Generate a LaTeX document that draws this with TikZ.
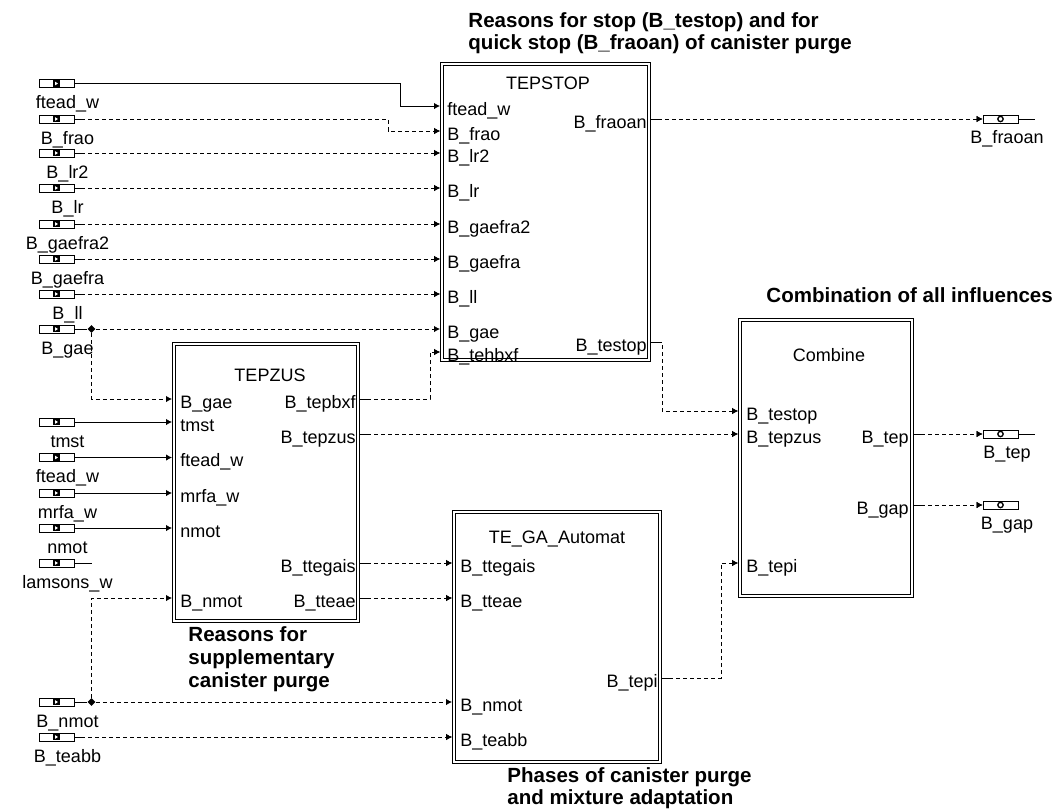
\documentclass[tikz,border=0pt]{standalone}
\usepackage{fontspec}
\setmainfont{Liberation Sans}
\usetikzlibrary{arrows.meta,calc,shapes.geometric}
\newcommand\plainfs{\fontsize{13.5pt}{15pt}\selectfont}
\newcommand\boldfs{\fontsize{15.4pt}{18pt}\selectfont\bfseries}
\begin{document}
\begin{tikzpicture}[x=0.75pt,y=-0.75pt, line width=0.65pt,
  pin/.style={font=\plainfs, inner sep=0pt, anchor=base west},
  pout/.style={font=\plainfs, inner sep=0pt, anchor=base east},
  btitle/.style={font=\plainfs, inner sep=0pt, anchor=base},
  note/.style={font=\boldfs, inner sep=0pt, anchor=base west},
  plbl/.style={font=\plainfs, inner sep=0pt, anchor=base},
  blk/.style={draw, double, double distance=1.6pt, inner sep=0pt},
  iport/.style={draw, minimum width=26.25pt, minimum height=6pt, inner sep=0pt,
    path picture={\fill ($(path picture bounding box.center)+(-2.6pt,-2.4pt)$) rectangle ++(5.2pt,4.8pt);
      \fill[white] ($(path picture bounding box.center)+(-1.1pt,-1.4pt)$) -- ++(0,2.8pt) -- ++(2.2pt,-1.4pt) -- cycle;}},
  oport/.style={draw, minimum width=26.25pt, minimum height=6pt, inner sep=0pt,
    path picture={\draw[line width=1pt] (path picture bounding box.center) circle (2pt);}},
  jn/.style={diamond, fill, inner sep=0pt, minimum size=6pt},
  tip/.style={-{Latex[length=4.5pt,width=4.8pt]}},
  sarr/.style={tip},
  con/.style={tip, dash pattern=on 3pt off 2.25pt, postaction={draw, dash pattern=on 7.5pt off 7000pt}},
  dsh/.style={dash pattern=on 3pt off 2.25pt},
]
\useasboundingbox (0,0) rectangle (1057,808);

% ---------- blocks ----------
\node[blk, minimum width=155.5pt, minimum height=222.2pt] (S) at (545.5,212) {};
\node[blk, minimum width=138.2pt, minimum height=208pt] (Z) at (266,482.5) {};
\node[blk, minimum width=154.7pt, minimum height=187.7pt] (G) at (557,637) {};
\node[blk, minimum width=129.2pt, minimum height=207.2pt] (C) at (826,458) {};

% titles
\node[btitle] (St) at (548,89.5) {TEPSTOP};
\node[btitle] (Zt) at (270,381.5) {TEPZUS};
\node[btitle] (Gt) at (557,543.5) {TE\_GA\_Automat};
\node[btitle] (Ct) at (829,361.5) {Combine};

% TEPSTOP pins
\foreach \i/\y/\t in {1/106/ftead\_w, 2/131/B\_frao, 3/153/B\_lr2, 4/188/B\_lr, 5/224/B\_gaefra2, 6/259/B\_gaefra, 7/294/B\_ll, 8/329/B\_gae, 9/352/B\_tehbxf}{
  \coordinate (Si\i) at (440,\y);
  \node[pin] (Sl\i) at (447,\y+9) {\t};
}
\coordinate (So1) at (651,119);
\coordinate (So2) at (651,342);
\node[pout] (Sol1) at (647,128) {B\_fraoan};
\node[pout] (Sol2) at (647,351) {B\_testop};

% TEPZUS pins
\foreach \i/\y/\t in {1/399/B\_gae, 2/422/tmst, 3/457.5/ftead\_w, 4/493/mrfa\_w, 5/528/nmot, 6/598/B\_nmot}{
  \coordinate (Zi\i) at (172,\y);
  \node[pin] (Zl\i) at (180,\y+9) {\t};
}
\foreach \i/\y/\t in {1/399/B\_tepbxf, 2/434/B\_tepzus, 3/563/B\_ttegais, 4/598/B\_tteae}{
  \coordinate (Zo\i) at (360,\y);
  \node[pout] (Zol\i) at (356,\y+9) {\t};
}

% TE_GA pins
\foreach \i/\y/\t in {1/563/B\_ttegais, 2/598/B\_tteae, 3/702/B\_nmot, 4/737/B\_teabb}{
  \coordinate (Gi\i) at (452,\y);
  \node[pin] (Gl\i) at (460,\y+9) {\t};
}
\coordinate (Go1) at (662,678);
\node[pout] (Gol1) at (658,687) {B\_tepi};

% Combine pins
\foreach \i/\y/\t in {1/411/B\_testop, 2/434/B\_tepzus, 3/563/B\_tepi}{
  \coordinate (Ci\i) at (738,\y);
  \node[pin] (Cl\i) at (746,\y+9) {\t};
}
\coordinate (Co1) at (914,434);
\coordinate (Co2) at (914,505);
\node[pout] (Col1) at (909,443) {B\_tep};
\node[pout] (Col2) at (909,514) {B\_gap};

% ---------- input ports ----------
\foreach \n/\y/\t in {p1/83.5/ftead\_w, p2/119/B\_frao, p3/153/B\_lr2, p4/188/B\_lr, p5/224/B\_gaefra2, p6/259/B\_gaefra, p7/294/B\_ll, p8/329/B\_gae, q1/422/tmst, q2/457.5/ftead\_w, q3/493/mrfa\_w, q4/528/nmot, q5/563/lamsons\_w, r1/702/B\_nmot, r2/737/B\_teabb}{
  \node[iport] (\n) at (56.5,\y) {};
  \node[plbl] (\n-l) at (67.5,\y+25) {\t};
}

% ---------- output ports ----------
\foreach \n/\y/\t in {o1/119/B\_fraoan, o2/434/B\_tep, o3/505/B\_gap}{
  \node[oport] (\n) at (1000.5,\y) {};
  \node[plbl] (\n-l) at (1007,\y+24) {\t};
}
\coordinate (o1e) at (1035,119);
\coordinate (o2e) at (1035,434);
\draw (o1.east) -- (o1e);
\draw (o2.east) -- (o2e);

% junctions
\node[jn] (j1) at (91.5,329) {};
\node[jn] (j2) at (91.5,702) {};
\coordinate (q5e) at (92,563);

% ---------- connectors ----------
\draw[sarr] (p1.east) -- (400,83.5) -- (400,106) -- (Si1);
\draw[con] (p2.east) -- (388,119) -- (388,131) -- (Si2);
\draw[con] (p3.east) -- (Si3);
\draw[con] (p4.east) -- (Si4);
\draw[con] (p5.east) -- (Si5);
\draw[con] (p6.east) -- (Si6);
\draw[con] (p7.east) -- (Si7);
\draw (p8.east) -- (j1);
\draw[tip, dsh] (j1) -- (Si8);
\draw[tip, dsh] (j1) -- (91.5,399) -- (Zi1);
\draw[con] (Zo1) -- (430,399) -- (430,352) -- (Si9);

\draw[sarr] (q1.east) -- (Zi2);
\draw[sarr] (q2.east) -- (Zi3);
\draw[sarr] (q3.east) -- (Zi4);
\draw[sarr] (q4.east) -- (Zi5);
\draw (q5.east) -- (q5e);

\draw (r1.east) -- (j2);
\draw[tip, dsh] (j2) -- (91.5,598) -- (Zi6);
\draw[tip, dsh] (j2) -- (Gi3);
\draw[con] (r2.east) -- (Gi4);

\draw[con] (Zo2) -- (Ci2);
\draw[con] (Zo3) -- (Gi1);
\draw[con] (Zo4) -- (Gi2);

\draw[con] (So1) -- (o1.west);
\draw[con] (So2) -- (662,342) -- (662,411) -- (Ci1);
\draw[con] (Go1) -- (721,678) -- (721,563) -- (Ci3);
\draw[con] (Co1) -- (o2.west);
\draw[con] (Co2) -- (o3.west);

% ---------- notes ----------
\node[note] (n1) at (468,27) {Reasons for stop (B\_testop) and for};
\node[note] (n2) at (468,49) {quick stop (B\_fraoan) of canister purge};
\node[note] (n3) at (766,302.5) {Combination of all influences};
\node[note] (n4) at (188,641) {Reasons for};
\node[note] (n5) at (188,664) {supplementary};
\node[note] (n6) at (188,687) {canister purge};
\node[note] (n7) at (507,782) {Phases of canister purge};
\node[note] (n8) at (507,804) {and mixture adaptation};
\end{tikzpicture}
\end{document}
